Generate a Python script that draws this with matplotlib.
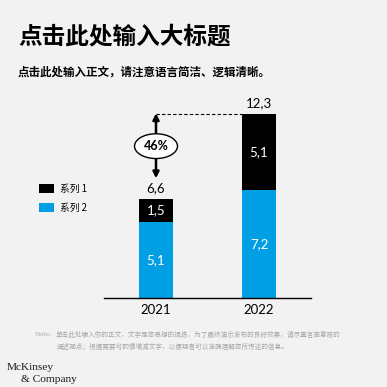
import numpy as np
import matplotlib
matplotlib.use("Agg")
import matplotlib.pyplot as plt

plt.rcParams['font.family'] = ['Noto Sans CJK SC', 'DejaVu Sans']

# ---------------------------
# Data
# ---------------------------
years = ["2021", "2022"]
series2 = [5.1, 7.2]   # bottom (blue)
series1 = [1.5, 5.1]   # top (black)
totals = [6.6, 12.3]
series_names = ["系列 1", "系列 2"]
growth_label = "46%"

title = "点击此处输入大标题"
subtitle = "点击此处输入正文，请注意语言简洁、逻辑清晰。"
note_lines = ["单击此处输入你的正文，文字是您思想的提炼，为了最终演示发布的良好效果，请尽量言简意赅的",
              "阐述观点；根据需要可酌情增减文字，以便观者可以准确理解您所传达的信息。"]

bg = "#F2F2F2"
blue = "#009FE3"
black = "#000000"
num_font = ["Lato", "DejaVu Sans"]

# ---------------------------
# Figure
# ---------------------------
W = H = 387
fig = plt.figure(figsize=(3.87, 3.87), dpi=100, facecolor=bg)

def fx(px):
    return px / W

def fy(py):
    return 1 - py / H

fig.text(fx(18), fy(36), title, fontsize=17, fontweight='bold', va='center', ha='left')
fig.text(fx(18), fy(72), subtitle, fontsize=8.3, fontweight='bold', va='center', ha='left')

ax = fig.add_axes([fx(104), fy(298), (311 - 104) / W, 208 / H])
ax.set_facecolor(bg)
x = np.arange(len(years))
bw = 0.33
b2 = ax.bar(x, series2, width=bw, color=blue, label=series_names[1])
b1 = ax.bar(x, series1, width=bw, bottom=series2, color=black, label=series_names[0])
ax.set_xlim(-0.505, 1.505)
ax.set_ylim(0, 208 / 14.96)

for s in ['top', 'right', 'left']:
    ax.spines[s].set_visible(False)
ax.spines['bottom'].set_linewidth(1.0)
ax.set_yticks([])
ax.set_xticks(x)
ax.set_xticklabels(years, fontsize=9.5, family=num_font)
ax.tick_params(axis='x', length=0, pad=4)

for i in range(len(years)):
    ax.text(x[i], series2[i] / 2, f"{series2[i]:.1f}".replace('.', ','), color='white',
            ha='center', va='center', fontsize=9.5, family=num_font)
    ax.text(x[i], series2[i] + series1[i] / 2, f"{series1[i]:.1f}".replace('.', ','), color='white',
            ha='center', va='center', fontsize=9.5, family=num_font)
    ax.text(x[i], totals[i] + 0.35, f"{totals[i]:.1f}".replace('.', ','), color='black',
            ha='center', va='bottom', fontsize=9.5, family=num_font)

# growth arrow
ax.plot([x[0], x[1] - bw / 2], [totals[1], totals[1]], color='black', lw=0.8, ls=(0, (3, 2)))
ax.annotate("", xy=(x[0], totals[1] + 0.05), xytext=(x[0], 8.0),
            arrowprops=dict(arrowstyle='<|-|>', color='black', lw=1.8,
                            mutation_scale=9, shrinkA=0, shrinkB=0))
ax.text(x[0], 10.15, growth_label, ha='center', va='center', fontsize=9, fontweight='bold',
        family=num_font,
        bbox=dict(boxstyle='ellipse,pad=0.22', fc='white', ec='black', lw=1.0))

# legend
fig.legend(handles=[b1, b2], labels=series_names, loc='upper left',
           bbox_to_anchor=(fx(30), fy(175)), frameon=False, fontsize=7,
           handlelength=1.55, handleheight=0.95, handletextpad=0.65, labelspacing=0.95)

# note
fig.text(fx(35), fy(335), "Note:", fontsize=4.5, color='#A6A6A6', va='center', ha='left',
         family=['DejaVu Serif'])
fig.text(fx(56), fy(335), note_lines[0], fontsize=4.75, color='#A6A6A6', va='center', ha='left')
fig.text(fx(56), fy(347), note_lines[1], fontsize=4.75, color='#A6A6A6', va='center', ha='left')

# logo
fig.text(fx(7), fy(367), "McKinsey", fontsize=8.2, family=['Liberation Serif'], va='center', ha='left',
         color='#1A1A1A')
fig.text(fx(21), fy(379), "& Company", fontsize=8.2, family=['Liberation Serif'], va='center', ha='left',
         color='#1A1A1A')

plt.savefig("out.png", dpi=100, facecolor=bg)
